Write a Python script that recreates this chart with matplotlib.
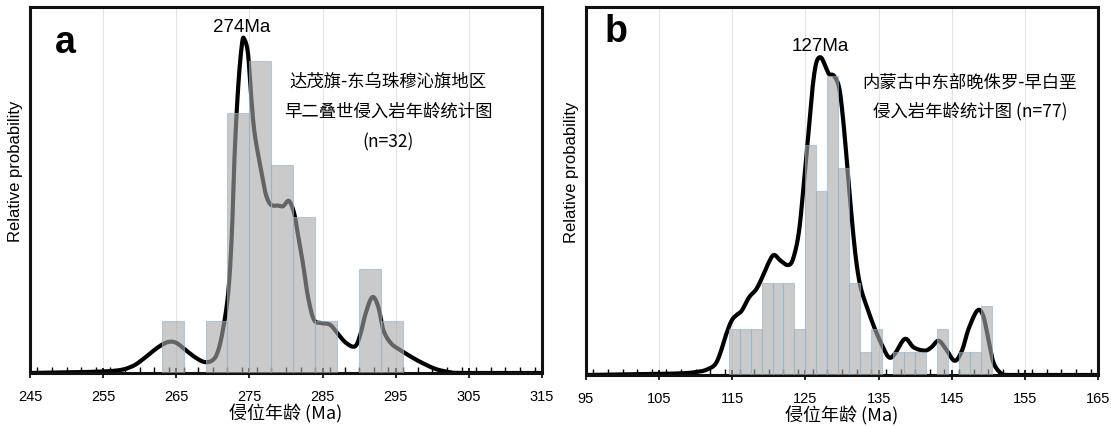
import matplotlib
matplotlib.use("Agg")
import matplotlib.pyplot as plt
import numpy as np
from matplotlib.ticker import MultipleLocator

plt.rcParams['font.family'] = ['Liberation Sans', 'Noto Sans CJK SC', 'DejaVu Sans']

# ---------------- Panel a data ----------------
a_bin_edges = [263, 266, 269, 272, 275, 278, 281, 284, 287, 290, 293, 296]
a_counts = [1, 0, 1, 5, 6, 4, 3, 1, 0, 2, 1]
a_curve_x = [245, 253, 257, 259, 260.4, 261.8, 263, 264, 265, 266.2, 267.7, 268.9,
             269.9, 270.6, 271.3, 272.1, 272.6, 273.0, 273.5, 274.0, 274.3, 274.8,
             275.2, 275.7, 276.5, 277.2, 277.9, 278.9, 279.6, 280.4, 281.1, 281.6,
             282.3, 283.0, 283.8, 284.8, 286.0, 287.0, 288.2, 289.4, 290.1, 290.9,
             291.8, 292.6, 293.3, 294.3, 295.5, 297.0, 298.4, 300.4, 302.3, 304.3, 315]
a_curve_y = [0, 0.02, 0.05, 0.13, 0.26, 0.42, 0.54, 0.60, 0.58, 0.45, 0.29, 0.21,
             0.24, 0.38, 0.77, 1.54, 2.69, 4.29, 5.58, 6.35, 6.42, 6.15,
             5.38, 4.62, 3.97, 3.46, 3.24, 3.22, 3.21, 3.31, 3.08, 2.69,
             2.12, 1.47, 1.03, 0.96, 0.93, 0.77, 0.58, 0.51, 0.71, 1.15,
             1.46, 1.28, 0.83, 0.58, 0.45, 0.32, 0.21, 0.08, 0.02, 0, 0]
a_xticks = [245, 255, 265, 275, 285, 295, 305, 315]
a_peak_label = "274Ma"
a_peak_age = 274
a_title = "达茂旗-东乌珠穆沁旗地区\n早二叠世侵入岩年龄统计图\n(n=32)"

# ---------------- Panel b data ----------------
b_bin_edges = [114.5, 116, 117.5, 119, 120.5, 122, 123.5, 125, 126.5, 128, 129.5,
               131, 132.5, 134, 135.5, 137, 138.5, 140, 141.5, 143, 144.5, 146,
               147.5, 149, 150.5]
b_counts = [2, 2, 2, 4, 4, 4, 2, 10, 8, 13, 9, 4, 1, 2, 0, 1, 1, 1, 0, 2, 0, 1, 1, 3]
b_curve_x = [95, 106.9, 110.3, 111.7, 112.7, 113.4, 114.1, 114.9, 115.6, 116.3,
             117.3, 118.3, 119.2, 120.0, 120.7, 121.6, 122.6, 123.3, 124.1, 124.8,
             125.5, 126.0, 126.5, 127.1, 127.7, 128.2, 128.9, 129.6, 130.1, 130.6,
             131.1, 131.8, 132.5, 133.5, 134.5, 135.5, 136.4, 137.2, 138.6, 139.8,
             141.3, 142.2, 143.2, 144.2, 145.4, 146.4, 147.3, 148.5, 149.3, 150.0,
             150.7, 151.7, 152.9, 165]
b_curve_y = [0, 0.06, 0.14, 0.26, 0.48, 0.99, 1.71, 2.36, 2.61, 2.80,
             3.38, 3.74, 4.32, 4.90, 5.22, 4.97, 4.78, 5.04, 6.2, 8.38,
             10.84, 12.58, 13.59, 13.81, 13.45, 13.09, 13.01, 12.51, 11.28, 9.54,
             7.65, 5.33, 3.88, 2.87, 2.0, 1.28, 0.77, 0.91, 1.57, 1.20,
             1.06, 1.20, 1.49, 1.13, 0.62, 1.06, 2.0, 2.80, 2.58, 1.57,
             0.55, 0.09, 0, 0]
b_xticks = [95, 105, 115, 125, 135, 145, 155, 165]
b_peak_label = "127Ma"
b_peak_age = 127
b_title = "内蒙古中东部晚侏罗-早白垩\n侵入岩年龄统计图 (n=77)"

W, H = 1111, 426
fig = plt.figure(figsize=(W / 100, H / 100), dpi=100)

ax_a = fig.add_axes([30 / W, (H - 373) / H, 512 / W, 366 / H])
ax_b = fig.add_axes([586 / W, (H - 375) / H, 512 / W, 368 / H])


def smooth(x, y):
    # Catmull-Rom interpolation through the read points (visual smoothing only)
    x = np.asarray(x, float)
    y = np.asarray(y, float)
    px = np.concatenate([[x[0]], x, [x[-1]]])
    py = np.concatenate([[y[0]], y, [y[-1]]])
    xs, ys = [], []
    t = np.linspace(0, 1, 12, endpoint=False)
    for i in range(1, len(px) - 2):
        p0, p1, p2, p3 = [np.array([px[j], py[j]]) for j in (i - 1, i, i + 1, i + 2)]
        for tt in t:
            pt = 0.5 * ((2 * p1) + (-p0 + p2) * tt + (2 * p0 - 5 * p1 + 4 * p2 - p3) * tt ** 2
                        + (-p0 + 3 * p1 - 3 * p2 + p3) * tt ** 3)
            xs.append(pt[0]); ys.append(pt[1])
    xs.append(x[-1]); ys.append(y[-1])
    return np.array(xs), np.clip(np.array(ys), 0, None)


def draw(ax, edges, counts, cx, cy, xticks, ymax, peak_label, peak_age, peak_y,
         letter, letter_xy, title, title_xy, title_ls, ylabel_y):
    ax.set_xlim(xticks[0], xticks[-1])
    ax.set_ylim(0, ymax)
    for t in xticks[1:-1]:
        ax.axvline(t, color='#dbe6ee', lw=0.8, zorder=0)
    sx, sy = smooth(cx, cy)
    ax.plot(sx, sy, color='black', lw=3.0, zorder=2, solid_capstyle='round')
    edges = np.asarray(edges)
    ax.bar(edges[:-1], counts, width=np.diff(edges), align='edge',
           color='#a8a8a8', alpha=0.6, edgecolor='#8fb2cc', linewidth=0.8, zorder=3)
    ax.set_xticks(xticks)
    ax.xaxis.set_minor_locator(MultipleLocator(2))
    ax.tick_params(axis='x', which='major', direction='inout', length=7, width=1.2,
                   labelsize=10.5, pad=9, colors='black')
    ax.tick_params(axis='x', which='minor', direction='in', length=4, width=1.0)
    ax.set_yticks([])
    for s in ax.spines.values():
        s.set_linewidth(2.2)
        s.set_color('#111111')
    ax.set_xlabel("侵位年龄 (Ma)", fontsize=13, labelpad=0,
                  family=['Noto Sans CJK SC', 'DejaVu Sans'])
    ax.set_ylabel("Relative probability", fontsize=12)
    ax.yaxis.set_label_coords(-0.014, ylabel_y)
    ax.text(peak_age, peak_y, peak_label, ha='center', va='baseline', fontsize=13.5, zorder=5)
    ax.text(letter_xy[0], letter_xy[1], letter, transform=ax.transAxes, fontsize=27,
            fontweight='bold', ha='left', va='baseline', family='Liberation Sans')
    ax.text(title_xy[0], title_xy[1], title, transform=ax.transAxes, ha='center',
            va='top', fontsize=12.5, linespacing=title_ls,
            family=['Noto Sans CJK SC', 'DejaVu Sans'], zorder=5)


draw(ax_a, a_bin_edges, a_counts, a_curve_x, a_curve_y, a_xticks, 7.04,
     a_peak_label, a_peak_age, 6.55, 'a', (0.048, 0.874), a_title, (0.70, 0.82), 1.85, 0.55)
draw(ax_b, b_bin_edges, b_counts, b_curve_x, b_curve_y, b_xticks, 16.0,
     b_peak_label, b_peak_age, 14.1, 'b', (0.036, 0.905), b_title, (0.75, 0.82), 1.7, 0.55)

fig.savefig("out.png", dpi=100)
